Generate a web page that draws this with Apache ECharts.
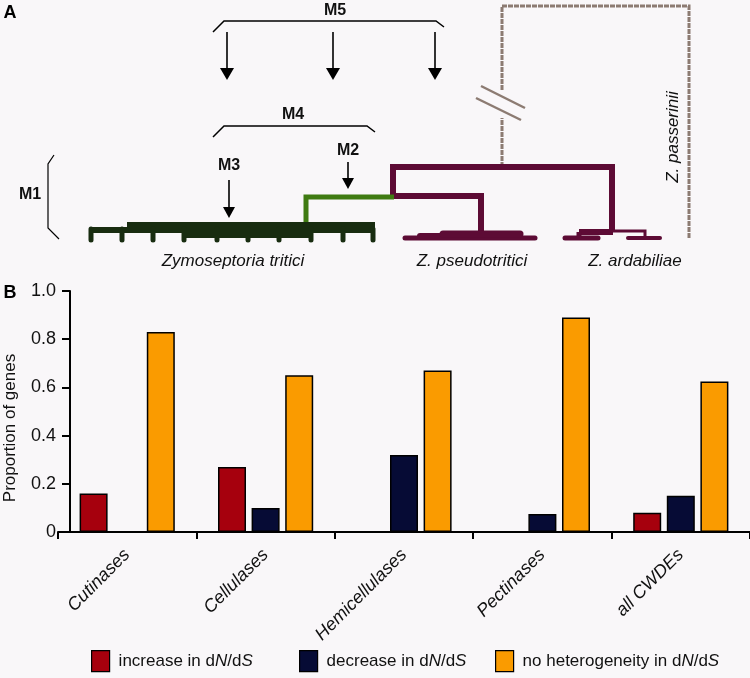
<!DOCTYPE html>
<html>
<head>
<meta charset="utf-8">
<script src="https://cdn.jsdelivr.net/npm/echarts@6/dist/echarts.min.js"></script>
<style>
html,body{margin:0;padding:0;background:#f9f7f9;}
#chart{width:750px;height:678px;}
</style>
</head>
<body>
<div id="chart"></div>
<script>
// ---- Data (panel B) ----
const categories = ['Cutinases', 'Cellulases', 'Hemicellulases', 'Pectinases', 'all CWDEs'];
const increaseVals = [0.16, 0.27, 0, 0, 0.08];
const decreaseVals = [0, 0.10, 0.32, 0.075, 0.15];
const noHetVals = [0.83, 0.65, 0.67, 0.89, 0.625];
const seriesNames = ['increase in dN/dS', 'decrease in dN/dS', 'no heterogeneity in dN/dS'];
const legendLabels = ['increase in d{i|N}/d{i|S}', 'decrease in d{i|N}/d{i|S}', 'no heterogeneity in d{i|N}/d{i|S}'];
const seriesColors = ['#a6000d', '#060b35', '#fa9b00'];

// ---- Panel A diagram (illustration) ----
const FONT = '"Liberation Sans", Arial, Helvetica, sans-serif';
const darkGreen = '#182c10';
const green = '#3f7b12';
const purple = '#5d0b35';
const gray = '#8c7b72';

const g = [];
function pl(points, stroke, w, cap, dash) {
  g.push({type: 'polyline', silent: true, shape: {points: points},
    style: {stroke: stroke, lineWidth: w, fill: null, lineCap: cap || 'butt', lineJoin: 'miter', lineDash: dash || null}});
}
function txt(t, x, y, font, opts) {
  opts = opts || {};
  g.push({type: 'text', silent: true, x: x, y: y, rotation: opts.rot || 0,
    style: {text: t, x: 0, y: 0, font: font, fill: opts.fill || '#111',
      textAlign: opts.align || 'center', align: opts.align || 'center',
      textVerticalAlign: 'middle', verticalAlign: 'middle'}});
}
function arrow(x, y0, y1, headLen, half) {
  pl([[x, y0], [x, y1 - headLen]], '#000', 1.6);
  g.push({type: 'polygon', silent: true, shape: {points: [[x - half, y1 - headLen], [x + half, y1 - headLen], [x, y1]]},
    style: {fill: '#000'}});
}

// panel labels
txt('A', 10, 13, 'bold 18px ' + FONT, {fill: '#000'});
txt('B', 10, 293, 'bold 18px ' + FONT, {fill: '#000'});

// brackets & arrows
pl([[213, 32], [224, 21], [436, 21], [444, 27]], '#000', 1.5);
txt('M5', 335, 11, 'bold 16px ' + FONT);
arrow(227, 32, 80, 12, 7);
arrow(333, 32, 80, 12, 7);
arrow(435, 32, 80, 12, 7);
pl([[213, 137], [224, 126], [367, 126], [375, 132]], '#000', 1.5);
txt('M4', 293, 115, 'bold 16px ' + FONT);
txt('M2', 348, 151, 'bold 16px ' + FONT);
arrow(348, 162, 189, 11, 6);
txt('M3', 229, 166, 'bold 16px ' + FONT);
arrow(229, 180, 218, 11, 6);
txt('M1', 30, 195, 'bold 16px ' + FONT);
pl([[54, 155], [48, 164], [48, 228], [59, 239]], '#000', 1.2);

// outgroup (dashed) with break
pl([[502, 167], [502, 118]], gray, 3, 'butt', [5, 1]);
pl([[502, 90], [502, 6], [689, 6], [689, 239]], gray, 3, 'butt', [5, 1]);
pl([[481, 86], [525, 108]], gray, 2.5);
pl([[476, 98], [521, 120]], gray, 2.5);
txt('Z. passerinii', 673, 137, 'italic 17px ' + FONT, {rot: Math.PI / 2});

// purple clades
pl([[393, 197], [393, 167], [612, 167], [612, 231]], purple, 6);
pl([[393, 196], [481, 196], [481, 235]], purple, 6);
pl([[405, 238], [535, 238]], purple, 5, 'round');
pl([[420, 236], [470, 236]], purple, 6, 'round');
pl([[443, 234], [520, 234]], purple, 7, 'round');
pl([[565, 238], [598, 238]], purple, 5, 'round');
pl([[579, 232], [613, 232]], purple, 6);
pl([[579, 232], [579, 238]], purple, 5);
pl([[612, 231], [645, 231], [645, 238]], purple, 3);
pl([[628, 238], [660, 238]], purple, 4, 'round');

// green branch
pl([[306, 226], [306, 197], [394, 197]], green, 5);

// dark green clade (Z. tritici)
pl([[91, 230], [375, 230]], darkGreen, 6);
pl([[127, 227], [233, 227]], darkGreen, 10);
pl([[233, 225], [375, 225]], darkGreen, 6);
pl([[183, 235], [312, 235]], darkGreen, 6);
[91, 122, 153, 184, 217, 248, 279, 311, 343, 373].forEach(function (x) {
  pl([[x, 229], [x, 240]], darkGreen, 5, 'round');
});

txt('Zymoseptoria tritici', 233, 261, 'italic 17px ' + FONT);
txt('Z. pseudotritici', 472, 261, 'italic 17px ' + FONT);
txt('Z. ardabiliae', 635, 261, 'italic 17px ' + FONT);

// y axis name of panel B
txt('Proportion of genes', 10, 428, '17px ' + FONT, {rot: Math.PI / 2});

// ---- chart ----
const chart = echarts.init(document.getElementById('chart'), null, {renderer: 'canvas'});
const valsList = [increaseVals, decreaseVals, noHetVals];
const legendLeft = [91, 299, 495];
const legends = seriesNames.map(function (n, i) {
  return {
    data: [n], left: legendLeft[i], top: 650, orient: 'horizontal', padding: 0,
    itemWidth: 18, itemHeight: 21, selectedMode: false,
    icon: 'rect',
    formatter: function () { return legendLabels[i]; },
    textStyle: {fontFamily: FONT, fontSize: 17, color: '#111', padding: [0, 0, 0, 4],
      rich: {i: {fontFamily: FONT, fontSize: 17, fontStyle: 'italic', color: '#111'}}},
    itemStyle: {borderColor: '#000', borderWidth: 1.2}
  };
});

chart.setOption({
  backgroundColor: '#f9f7f9',
  animation: false,
  graphic: {elements: g},
  legend: legends,
  grid: {left: 58, right: -8, top: 291, bottom: 146, containLabel: false},
  xAxis: {
    type: 'category', data: categories,
    axisLine: {lineStyle: {color: '#000', width: 2}},
    axisTick: {show: true, length: 7, lineStyle: {color: '#000', width: 2}},
    axisLabel: {rotate: 45, margin: 20, fontFamily: FONT, fontSize: 18, fontStyle: 'italic', color: '#111'}
  },
  yAxis: {
    type: 'value', min: 0, max: 1, interval: 0.2, offset: -12,
    splitLine: {show: false},
    axisLine: {show: true, lineStyle: {color: '#000', width: 2}},
    axisTick: {show: true, length: 8, lineStyle: {color: '#000', width: 2}},
    axisLabel: {margin: 14, fontFamily: FONT, fontSize: 18, color: '#111',
      formatter: function (v) { return v === 0 ? '0' : v.toFixed(1); }}
  },
  series: seriesNames.map(function (n, i) {
    return {
      name: n, type: 'bar', data: valsList[i], barWidth: 28, barGap: '20%',
      itemStyle: {color: seriesColors[i], borderColor: '#000', borderWidth: 1.5}
    };
  })
});
</script>
</body>
</html>
